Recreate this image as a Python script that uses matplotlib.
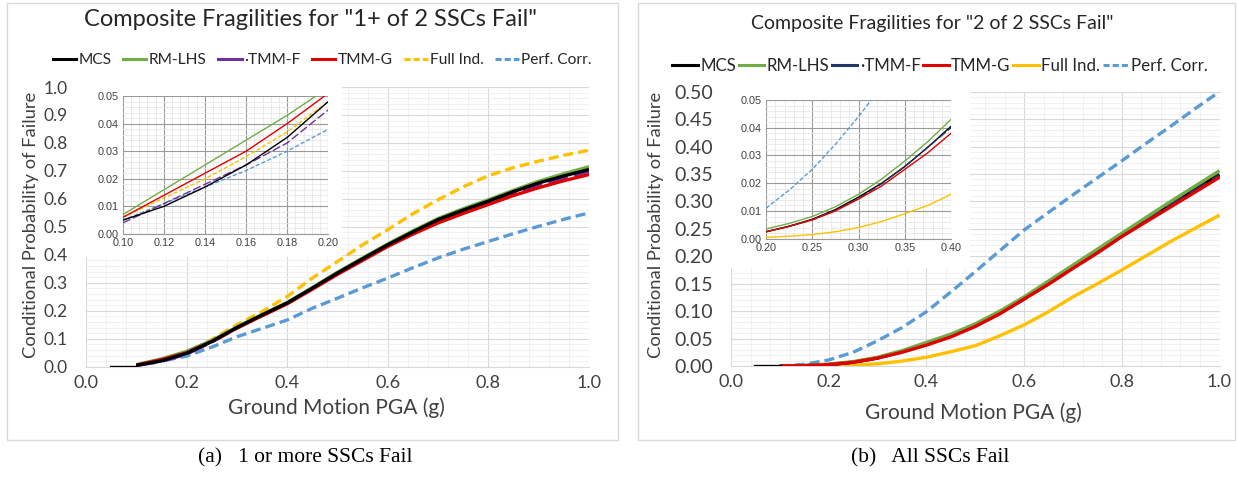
import matplotlib
matplotlib.use('Agg')
import matplotlib.pyplot as plt
from matplotlib.ticker import MultipleLocator, FormatStrFormatter
from matplotlib.patches import Rectangle
from matplotlib.lines import Line2D

# ---- data ----
pga = [0.10, 0.15, 0.20, 0.25, 0.30, 0.35, 0.40, 0.45, 0.50, 0.55,
       0.60, 0.65, 0.70, 0.75, 0.80, 0.85, 0.90, 0.95, 1.00]
mcs_start_x = [0.05, 0.10]
mcs_start_y = [0.0, 0.0]

# (a) 1+ of 2 SSCs fail
a_mcs = [0.005, 0.021, 0.048, 0.090, 0.140, 0.185, 0.228, 0.281, 0.335, 0.386,
         0.436, 0.482, 0.526, 0.560, 0.592, 0.626, 0.657, 0.682, 0.705]
a_rmlhs = [0.007, 0.028, 0.055, 0.094, 0.142, 0.187, 0.230, 0.283, 0.338, 0.389,
           0.439, 0.486, 0.530, 0.565, 0.597, 0.631, 0.663, 0.690, 0.715]
a_tmmf = [0.004, 0.019, 0.045, 0.088, 0.138, 0.183, 0.226, 0.279, 0.333, 0.384,
          0.433, 0.479, 0.522, 0.556, 0.588, 0.620, 0.650, 0.675, 0.698]
a_tmmg = [0.006, 0.025, 0.050, 0.090, 0.138, 0.182, 0.225, 0.277, 0.330, 0.380,
          0.430, 0.474, 0.514, 0.548, 0.580, 0.612, 0.640, 0.665, 0.687]
a_full = [0.006, 0.024, 0.050, 0.097, 0.150, 0.197, 0.251, 0.317, 0.376, 0.436,
          0.490, 0.547, 0.597, 0.643, 0.683, 0.712, 0.735, 0.756, 0.774]
a_perf = [0.005, 0.020, 0.038, 0.070, 0.107, 0.137, 0.167, 0.209, 0.245, 0.282,
          0.317, 0.354, 0.389, 0.420, 0.448, 0.476, 0.502, 0.527, 0.550]

# (a) inset, 0.10-0.20 g
a_in_x = [0.10, 0.12, 0.14, 0.16, 0.18, 0.20]
a_in_mcs = [0.005, 0.010, 0.017, 0.025, 0.035, 0.048]
a_in_rmlhs = [0.007, 0.016, 0.025, 0.034, 0.043, 0.053]
a_in_tmmf = [0.004, 0.011, 0.018, 0.025, 0.033, 0.045]
a_in_tmmg = [0.006, 0.014, 0.022, 0.030, 0.040, 0.051]
a_in_full = [0.006, 0.013, 0.020, 0.028, 0.037, 0.048]
a_in_perf = [0.005, 0.011, 0.017, 0.023, 0.030, 0.038]

# (b) 2 of 2 SSCs fail
b_mcs = [0.0, 0.0006, 0.0025, 0.007, 0.015, 0.026, 0.040, 0.055, 0.074, 0.097,
         0.123, 0.151, 0.180, 0.208, 0.238, 0.266, 0.294, 0.322, 0.349]
b_rmlhs = [0.0, 0.0008, 0.0035, 0.008, 0.016, 0.028, 0.043, 0.058, 0.077, 0.100,
           0.126, 0.155, 0.184, 0.213, 0.242, 0.271, 0.300, 0.328, 0.356]
b_tmmf = [0.0, 0.0006, 0.0025, 0.0068, 0.0145, 0.026, 0.040, 0.055, 0.073, 0.096,
          0.122, 0.150, 0.179, 0.207, 0.237, 0.265, 0.293, 0.320, 0.347]
b_tmmg = [0.0, 0.0005, 0.0025, 0.0068, 0.0143, 0.025, 0.038, 0.053, 0.072, 0.095,
          0.122, 0.149, 0.178, 0.206, 0.236, 0.263, 0.290, 0.317, 0.344]
b_full = [0.0, 0.0001, 0.0005, 0.0015, 0.004, 0.009, 0.016, 0.026, 0.037, 0.055,
          0.075, 0.099, 0.126, 0.150, 0.175, 0.201, 0.227, 0.251, 0.275]
b_perf = [0.0, 0.003, 0.011, 0.025, 0.046, 0.070, 0.099, 0.135, 0.172, 0.210,
          0.248, 0.280, 0.312, 0.343, 0.374, 0.406, 0.437, 0.469, 0.500]

# (b) inset, 0.20-0.40 g
b_in_x = [0.200, 0.225, 0.250, 0.275, 0.300, 0.325, 0.350, 0.375, 0.400]
b_in_mcs = [0.0025, 0.0045, 0.0070, 0.0105, 0.0150, 0.0200, 0.0260, 0.0330, 0.0405]
b_in_rmlhs = [0.0035, 0.0055, 0.0080, 0.0115, 0.0160, 0.0215, 0.0280, 0.0350, 0.0430]
b_in_tmmf = [0.0025, 0.0045, 0.0068, 0.0102, 0.0145, 0.0198, 0.0260, 0.0330, 0.0400]
b_in_tmmg = [0.0025, 0.0044, 0.0068, 0.0100, 0.0143, 0.0190, 0.0250, 0.0310, 0.0380]
b_in_full = [0.0005, 0.0009, 0.0015, 0.0025, 0.0040, 0.0062, 0.0090, 0.0120, 0.0160]
b_in_perf_x = [0.200, 0.225, 0.250, 0.275, 0.300, 0.325]
b_in_perf = [0.011, 0.0175, 0.025, 0.034, 0.044, 0.055]

labels = ['MCS', 'RM-LHS', '\u00b7TMM-F', 'TMM-G', 'Full Ind.', 'Perf. Corr.']

W, H = 1238, 479
fig = plt.figure(figsize=(W / 100, H / 100), dpi=100)
plt.rcParams['font.family'] = ['Lato', 'DejaVu Sans']


def px(x0, y0, x1, y1):
    # pixel box (top-left origin) -> figure rect
    return [x0 / W, 1 - y1 / H, (x1 - x0) / W, (y1 - y0) / H]


def style(ax, xmaj, xmin, ymaj, ymin, xfmt, yfmt, fs, major_c, minor_c, fam=None):
    ax.xaxis.set_major_locator(MultipleLocator(xmaj))
    ax.xaxis.set_minor_locator(MultipleLocator(xmin))
    ax.yaxis.set_major_locator(MultipleLocator(ymaj))
    ax.yaxis.set_minor_locator(MultipleLocator(ymin))
    ax.xaxis.set_major_formatter(FormatStrFormatter(xfmt))
    ax.yaxis.set_major_formatter(FormatStrFormatter(yfmt))
    ax.grid(which='major', color=major_c, lw=0.8)
    ax.grid(which='minor', color=minor_c, lw=0.6)
    ax.set_axisbelow(True)
    ax.tick_params(which='both', length=0, labelsize=fs, colors='#404040', pad=6)
    for s in ['top', 'right', 'left']:
        ax.spines[s].set_visible(False)
    ax.spines['bottom'].set_color('#d9d9d9')
    if fam:
        for t in ax.get_xticklabels() + ax.get_yticklabels():
            t.set_family(fam)


# panel frames
for x0, x1 in [(7, 618), (638, 1235)]:
    fig.patches.append(Rectangle((x0 / W, 1 - 440 / H), (x1 - x0) / W, 437 / H,
                                 transform=fig.transFigure, fill=False,
                                 edgecolor='#d9d9d9', lw=1.0))

panels = [
    dict(main=px(86, 87, 589, 366.7), ylim=1.0, ymaj=0.1, ymin=0.02, yfmt='%.1f',
         series=[a_mcs, a_rmlhs, a_tmmf, a_tmmg, a_full, a_perf],
         inset=px(122.7, 96, 328.3, 234), inbox=(85, 87, 342, 257),
         in_x=a_in_x, in_series=[a_in_mcs, a_in_rmlhs, a_in_tmmf, a_in_tmmg, a_in_full, a_in_perf],
         in_perf_x=a_in_x, inxlim=(0.10, 0.20), inxmaj=0.02, inxmin=0.004,
         tmmf_c='#7030a0', full_ls='--', order=[5, 4, 1, 2, 3, 0],
         title='Composite Fragilities for "1+ of 2 SSCs Fail"', tx=311, ty=20, tfs=17,
         legy=60, legfs=11.2, legcs=0.75, legx=322, ylx=31, xlx=336, xly=408, ytfs=12.5,
         caption='(a)   1 or more SSCs Fail', cx=305),
    dict(main=px(731, 91.7, 1219.5, 366), ylim=0.5, ymaj=0.05, ymin=0.01, yfmt='%.2f',
         series=[b_mcs, b_rmlhs, b_tmmf, b_tmmg, b_full, b_perf],
         inset=px(766, 100, 951, 238.7), inbox=(730, 92, 970, 268),
         in_x=b_in_x, in_series=[b_in_mcs, b_in_rmlhs, b_in_tmmf, b_in_tmmg, b_in_full, b_in_perf],
         in_perf_x=b_in_perf_x, inxlim=(0.20, 0.40), inxmaj=0.05, inxmin=0.01,
         tmmf_c='#1f3864', full_ls='-', order=[5, 4, 0, 2, 1, 3],
         title='Composite Fragilities for "2 of 2 SSCs Fail"', tx=932, ty=24, tfs=14,
         legy=66, legfs=12.2, legcs=0.15, legx=940, ylx=656, xlx=973, xly=413, ytfs=14,
         caption='(b)   All SSCs Fail', cx=930),
]

for p in panels:
    colors = ['black', '#70ad47', p['tmmf_c'], '#e00000', '#ffc000', '#5b9bd5']
    dashed = (0, (3, 1.5))
    styles = ['-', '-', (0, (6, 2)), '-', dashed if p['full_ls'] == '--' else '-', dashed]

    ax = fig.add_axes(p['main'], zorder=0)
    style(ax, 0.2, 0.04, p['ymaj'], p['ymin'], '%.1f', p['yfmt'], 13,
          '#d9d9d9', '#efefef')
    ax.tick_params(axis='y', labelsize=p['ytfs'], pad=13)
    ax.set_xlim(0, 1.0)
    ax.set_ylim(0, p['ylim'])
    for i in p['order']:
        ax.plot(pga, p['series'][i], color=colors[i], lw=2.4, ls=styles[i],
                solid_capstyle='butt', solid_joinstyle='round', zorder=3)
    ax.plot(mcs_start_x, mcs_start_y, color='black', lw=2.4, zorder=4)

    # white box behind inset
    bx0, by0, bx1, by1 = p['inbox']
    fig.patches.append(Rectangle((bx0 / W, 1 - by1 / H), (bx1 - bx0) / W, (by1 - by0) / H,
                                 transform=fig.transFigure, facecolor='white',
                                 edgecolor='none', zorder=1))
    ins = fig.add_axes(p['inset'], zorder=2)
    style(ins, p['inxmaj'], p['inxmin'], 0.01, 0.002, '%.2f', '%.2f', 7.8,
          '#999999', '#e6e6e6', fam='Liberation Sans')
    ins.tick_params(pad=3)
    ins.spines['bottom'].set_color('#999999')
    ins.set_xlim(*p['inxlim'])
    ins.set_ylim(0, 0.05)
    for i in p['order']:
        xs = p['in_perf_x'] if i == 5 else p['in_x']
        ins.plot(xs, p['in_series'][i], color=colors[i], lw=1.0, ls=styles[i], zorder=3)

    # legend
    handles = []
    for i in range(6):
        ls = '-'
        if i == 5 or (i == 4 and p['full_ls'] == '--'):
            ls = (0, (2, 1))
        handles.append(Line2D([], [], color=colors[i], lw=2.2, ls=ls))
    fig.legend(handles, labels, loc='center', ncol=6, frameon=False,
               bbox_to_anchor=(p['legx'] / W, 1 - p['legy'] / H),
               fontsize=p['legfs'], handlelength=1.5, handletextpad=0.15,
               columnspacing=p['legcs'], labelcolor='#262626')

    fig.text(p['tx'] / W, 1 - p['ty'] / H, p['title'], ha='center', va='center',
             fontsize=p['tfs'], color='#262626')
    fig.text(p['ylx'] / W, 1 - 225 / H, 'Conditional Probability of Failure',
             rotation=90, ha='center', va='center', fontsize=13.2, color='#404040')
    fig.text(p['xlx'] / W, 1 - p['xly'] / H, 'Ground Motion PGA (g)', ha='center',
             va='center', fontsize=15, color='#404040')
    fig.text(p['cx'] / W, 1 - 458 / H, p['caption'], ha='center', va='center',
             fontsize=15.5, family='Liberation Serif', color='black')

fig.savefig('out.png', dpi=100)
